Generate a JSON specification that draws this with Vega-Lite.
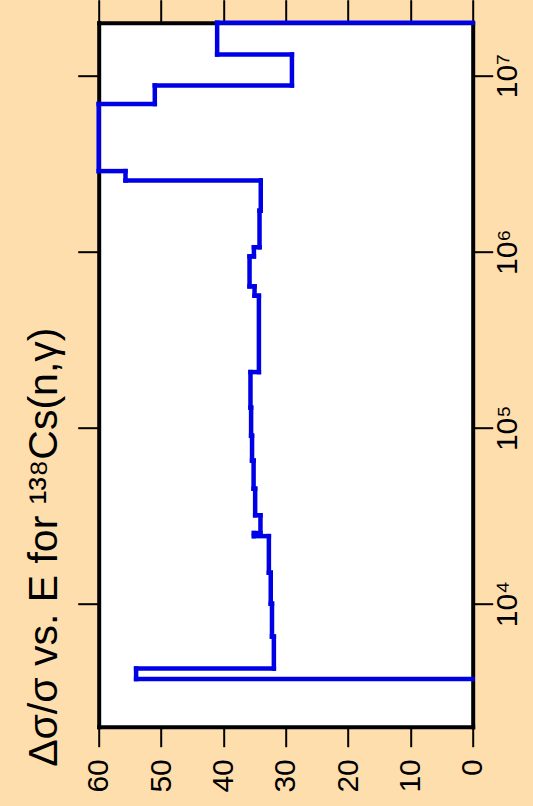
{
  "$schema": "https://vega.github.io/schema/vega-lite/v6.json",
  "width": 374,
  "height": 704,
  "autosize": "none",
  "padding": {"left": 98.7, "top": 22.7, "right": 60.3, "bottom": 79.3},
  "background": "#FFDEAD",
  "config": {
    "font": "Liberation Sans",
    "view": {"fill": "white", "stroke": null},
    "axis": {"domain": true, "domainColor": "black", "domainWidth": 4, "domainCap": "square", "grid": false, "tickColor": "black", "tickWidth": 2, "labelColor": "black", "titleColor": "black", "labelFont": "Liberation Sans", "titleFont": "Liberation Sans"}
  },
  "data": {
    "values": [
      {"v": 0, "v2": 41, "E": 20000000, "E2": 20000000},
      {"v": 41, "v2": 41, "E": 20000000, "E2": 13200000},
      {"v": 41, "v2": 29, "E": 13200000, "E2": 13200000},
      {"v": 29, "v2": 29, "E": 13200000, "E2": 8800000},
      {"v": 29, "v2": 51, "E": 8800000, "E2": 8800000},
      {"v": 51, "v2": 51, "E": 8800000, "E2": 6900000},
      {"v": 51, "v2": 60, "E": 6900000, "E2": 6900000},
      {"v": 60, "v2": 60, "E": 6900000, "E2": 2870000},
      {"v": 60, "v2": 55.7, "E": 2870000, "E2": 2870000},
      {"v": 55.7, "v2": 55.7, "E": 2870000, "E2": 2540000},
      {"v": 55.7, "v2": 34.0, "E": 2540000, "E2": 2540000},
      {"v": 34.0, "v2": 34.0, "E": 2540000, "E2": 1710000},
      {"v": 34.0, "v2": 34.2, "E": 1710000, "E2": 1710000},
      {"v": 34.2, "v2": 34.2, "E": 1710000, "E2": 1060000},
      {"v": 34.2, "v2": 35.1, "E": 1060000, "E2": 1060000},
      {"v": 35.1, "v2": 35.1, "E": 1060000, "E2": 940000},
      {"v": 35.1, "v2": 35.8, "E": 940000, "E2": 940000},
      {"v": 35.8, "v2": 35.8, "E": 940000, "E2": 635000},
      {"v": 35.8, "v2": 35.0, "E": 635000, "E2": 635000},
      {"v": 35.0, "v2": 35.0, "E": 635000, "E2": 562000},
      {"v": 35.0, "v2": 34.3, "E": 562000, "E2": 562000},
      {"v": 34.3, "v2": 34.3, "E": 562000, "E2": 207000},
      {"v": 34.3, "v2": 35.65, "E": 207000, "E2": 207000},
      {"v": 35.65, "v2": 35.65, "E": 207000, "E2": 130000},
      {"v": 35.65, "v2": 35.55, "E": 130000, "E2": 130000},
      {"v": 35.55, "v2": 35.55, "E": 130000, "E2": 90000},
      {"v": 35.55, "v2": 35.4, "E": 90000, "E2": 90000},
      {"v": 35.4, "v2": 35.4, "E": 90000, "E2": 65000},
      {"v": 35.4, "v2": 35.15, "E": 65000, "E2": 65000},
      {"v": 35.15, "v2": 35.15, "E": 65000, "E2": 45000},
      {"v": 35.15, "v2": 34.9, "E": 45000, "E2": 45000},
      {"v": 34.9, "v2": 34.9, "E": 45000, "E2": 31800},
      {"v": 34.9, "v2": 34.05, "E": 31800, "E2": 31800},
      {"v": 34.05, "v2": 34.05, "E": 31800, "E2": 25200},
      {"v": 34.05, "v2": 35.1, "E": 25200, "E2": 25200},
      {"v": 35.1, "v2": 35.1, "E": 25200, "E2": 24200},
      {"v": 35.1, "v2": 32.7, "E": 24200, "E2": 24200},
      {"v": 32.7, "v2": 32.7, "E": 24200, "E2": 15000},
      {"v": 32.7, "v2": 32.4, "E": 15000, "E2": 15000},
      {"v": 32.4, "v2": 32.4, "E": 15000, "E2": 10000},
      {"v": 32.4, "v2": 32.2, "E": 10000, "E2": 10000},
      {"v": 32.2, "v2": 32.2, "E": 10000, "E2": 6500},
      {"v": 32.2, "v2": 31.9, "E": 6500, "E2": 6500},
      {"v": 31.9, "v2": 31.9, "E": 6500, "E2": 4280},
      {"v": 31.9, "v2": 54, "E": 4280, "E2": 4280},
      {"v": 54, "v2": 54, "E": 4280, "E2": 3730},
      {"v": 54, "v2": 0, "E": 3730, "E2": 3730}
    ]
  },
  "layer": [
    {
      "mark": {"type": "rule", "color": "#0000E6", "strokeWidth": 4.5, "strokeCap": "square"},
      "encoding": {
        "x": {
          "field": "v", "type": "quantitative",
          "scale": {"domain": [0, 60], "reverse": true, "nice": false, "zero": false},
          "axis": {"orient": "bottom", "values": [0, 10, 20, 30, 40, 50, 60], "title": null, "labelAngle": -90, "labelAlign": "right", "labelBaseline": "middle", "labelFontSize": 30, "tickSize": 20, "labelPadding": 12}
        },
        "x2": {"field": "v2"},
        "y": {
          "field": "E", "type": "quantitative",
          "scale": {"type": "log", "domain": [2000, 20000000], "nice": false},
          "axis": {"orient": "left", "values": [10000, 100000, 1000000, 10000000], "labels": false, "tickSize": 21,
            "title": "Δσ/σ vs. E for ¹³⁸Cs(n,γ)", "titleAngle": -90, "titleX": -41.7, "titleY": 524, "titleAlign": "center", "titleBaseline": "alphabetic", "titleFontSize": 41, "titleFontWeight": "normal"}
        },
        "y2": {"field": "E2"}
      }
    },
    {
      "mark": {"type": "rule", "color": "#0000E6", "strokeWidth": 4.5, "opacity": 0},
      "encoding": {
        "x": {
          "field": "v", "type": "quantitative",
          "axis": {"orient": "top", "values": [0, 10, 20, 30, 40, 50, 60], "title": null, "labels": false, "tickSize": 23}
        },
        "x2": {"field": "v2"},
        "y": {
          "field": "E", "type": "quantitative",
          "axis": {"orient": "right", "values": [10000, 100000, 1000000, 10000000], "title": null, "tickSize": 20,
            "labelExpr": "datum.value == 10000 ? '10⁴' : datum.value == 100000 ? '10⁵' : datum.value == 1000000 ? '10⁶' : '10⁷'",
            "labelAngle": -90, "labelAlign": "center", "labelBaseline": "top", "labelFontSize": 30, "labelPadding": 0}
        },
        "y2": {"field": "E2"}
      }
    }
  ],
  "resolve": {"axis": {"x": "independent", "y": "independent"}}
}
